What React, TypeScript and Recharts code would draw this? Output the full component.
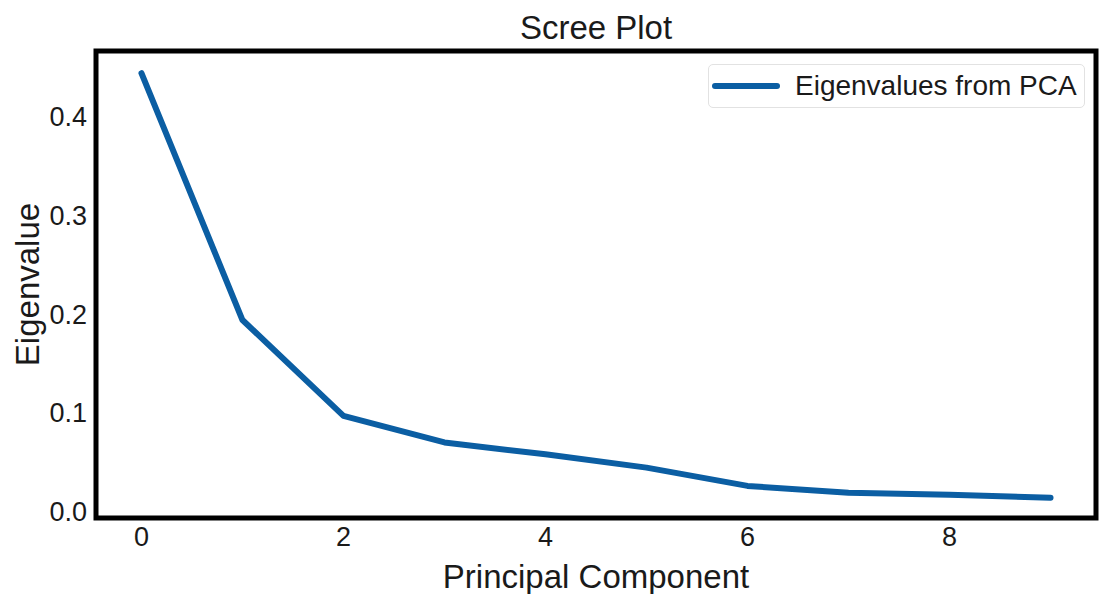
import React from 'react';
import { LineChart, Line, XAxis, YAxis, ReferenceArea } from 'recharts';

const components = [0, 1, 2, 3, 4, 5, 6, 7, 8, 9];
const eigenvalues = [0.444, 0.194, 0.097, 0.070, 0.058, 0.0445, 0.026, 0.019, 0.017, 0.014];
const xTicks = [0, 2, 4, 6, 8];
const yTicks = [0, 0.1, 0.2, 0.3, 0.4];
const xDomain: [number, number] = [-0.45, 9.45];
const yDomain: [number, number] = [-0.0065, 0.4665];
const seriesName = 'Eigenvalues from PCA';

const data = components.map((c, i) => ({ pc: c, ev: eigenvalues[i] }));

const FONT = '"Liberation Sans", Arial, sans-serif';
const LINE_COLOR = '#0b5ea3';
const TEXT = '#1a1a1a';

export default function App() {
  return (
    <div style={{ position: 'absolute', left: 0, top: 0, width: 1100, height: 594, background: '#fff', overflow: 'hidden' }}>
      <LineChart
        width={1100}
        height={594}
        data={data}
        margin={{ top: 51, right: 4, left: 0, bottom: 0 }}
        style={{ fontFamily: FONT }}
      >
        <XAxis
          dataKey="pc"
          type="number"
          domain={xDomain}
          ticks={xTicks}
          allowDataOverflow
          axisLine={false}
          tickLine={false}
          height={76}
          tickMargin={3}
          tick={{ fontSize: 27, fill: TEXT }}
          label={{ value: 'Principal Component', position: 'insideBottom', offset: 6, style: { fontSize: 33, fill: TEXT } }}
        />
        <YAxis
          type="number"
          domain={yDomain}
          ticks={yTicks}
          allowDataOverflow
          axisLine={false}
          tickLine={false}
          width={96}
          tickMargin={3}
          tickFormatter={(v: number) => v.toFixed(1)}
          tick={{ fontSize: 27, fill: TEXT }}
          label={{ value: 'Eigenvalue', angle: -90, position: 'insideLeft', offset: 27, style: { fontSize: 33, fill: TEXT, textAnchor: 'middle' } }}
        />
        <ReferenceArea
          x1={xDomain[0]}
          x2={xDomain[1]}
          y1={yDomain[0]}
          y2={yDomain[1]}
          fill="none"
          stroke="#000"
          strokeWidth={5}
          ifOverflow="visible"
        />
        <Line
          type="linear"
          dataKey="ev"
          name={seriesName}
          stroke={LINE_COLOR}
          strokeWidth={6}
          dot={false}
          strokeLinecap="round"
          strokeLinejoin="round"
          isAnimationActive={false}
        />
      </LineChart>
      <div
        style={{
          position: 'absolute',
          left: 96,
          width: 1000,
          top: 8,
          textAlign: 'center',
          fontFamily: FONT,
          fontSize: 33,
          lineHeight: '40px',
          color: TEXT,
        }}
      >
        Scree Plot
      </div>
      <div
        style={{
          position: 'absolute',
          left: 708,
          top: 64,
          width: 377,
          height: 44,
          boxSizing: 'border-box',
          border: '1px solid #e2e2e2',
          borderRadius: 5,
          background: '#fff',
          fontFamily: FONT,
          fontSize: 28,
          color: TEXT,
        }}
      >
        <svg width={70} height={12} style={{ position: 'absolute', left: 2, top: 15 }}>
          <line x1={4} y1={6} x2={66} y2={6} stroke={LINE_COLOR} strokeWidth={6} strokeLinecap="round" />
        </svg>
        <span style={{ position: 'absolute', left: 86, top: 4, lineHeight: '34px', whiteSpace: 'nowrap' }}>{seriesName}</span>
      </div>
    </div>
  );
}
